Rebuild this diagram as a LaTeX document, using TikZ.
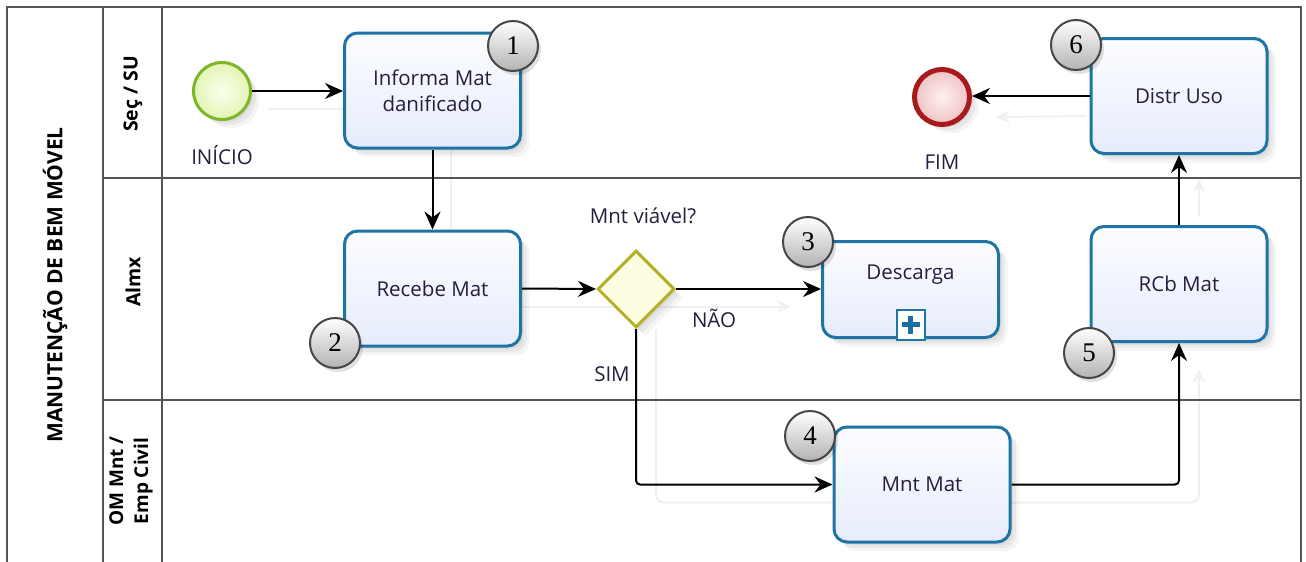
\documentclass[tikz,border=0pt]{standalone}
\usepackage{fontspec}
\setmainfont{Open Sans}
\newfontfamily\numfont{Liberation Serif}
\usetikzlibrary{arrows.meta,shadows,shapes.geometric,calc}

\pgfdeclarelayer{background}
\pgfsetlayers{background,main}

\definecolor{taskedge}{HTML}{1F74A6}
\definecolor{taskfillA}{HTML}{FCFDFF}
\definecolor{taskfillB}{HTML}{E6ECFB}
\definecolor{txt}{HTML}{281E3C}
\definecolor{laneline}{HTML}{555555}
\definecolor{startedge}{HTML}{7DB52B}
\definecolor{startfillA}{HTML}{FBFEEE}
\definecolor{startfillB}{HTML}{E2F5B4}
\definecolor{endedge}{HTML}{A8191C}
\definecolor{endfillA}{HTML}{FDF0F0}
\definecolor{endfillB}{HTML}{F0C3C5}
\definecolor{gwedge}{HTML}{B3B026}
\definecolor{gwfill}{HTML}{FDFDE2}
\definecolor{ghost}{HTML}{F0F0F0}
\definecolor{plusblue}{HTML}{1B6FA3}

\tikzset{
  softshadow/.style={
    general shadow={fill=black, opacity=0.05, shadow xshift=3pt, shadow yshift=-3pt},
    general shadow={fill=black, opacity=0.05, shadow xshift=6pt, shadow yshift=-6pt},
    general shadow={fill=black, opacity=0.04, shadow xshift=9pt, shadow yshift=-9pt}},
  frame/.style={draw=laneline, line width=1.8pt},
  lbl/.style={font=\fontsize{20.5}{26}\selectfont, text=txt, align=center},
  lanetitle/.style={font=\bfseries\fontsize{19.5}{24}\selectfont, text=black, rotate=90, align=center},
  task/.style={draw=taskedge, line width=3pt, rounded corners=13pt,
    minimum width=176pt, minimum height=115pt, inner sep=0pt,
    top color=taskfillA, bottom color=taskfillB, softshadow, lbl},
  badge/.style={circle, draw=gray!55!black, line width=2pt, minimum size=50pt, inner sep=0pt,
    top color=white, bottom color=gray!60,
    general shadow={fill=black, opacity=0.12, shadow xshift=3pt, shadow yshift=-4pt},
    font=\numfont\fontsize{27}{27}\selectfont, text=black},
  startev/.style={circle, draw=startedge, line width=3pt, minimum size=57pt, inner sep=0pt,
    inner color=startfillA, outer color=startfillB, softshadow},
  endev/.style={circle, draw=endedge, line width=5pt, minimum size=55pt, inner sep=0pt,
    inner color=endfillA, outer color=endfillB, softshadow},
  gateway/.style={diamond, draw=gwedge, line width=3pt, minimum width=77pt, minimum height=77pt,
    inner sep=0pt, fill=gwfill, softshadow},
  submark/.style={draw=taskedge, line width=2pt, fill=white, minimum width=28pt, minimum height=30pt, inner sep=0pt},
  conn/.style={draw=black, line width=2pt, -{Stealth[length=18pt,width=16pt,inset=6pt]}},
  ghostline/.style={draw=ghost, line width=2pt},
  ghostarrow/.style={ghostline, -{Stealth[length=14pt,width=13pt,inset=5pt]}}
}

\begin{document}
\begin{tikzpicture}[x=1pt,y=-1pt]
\useasboundingbox (0,0) rectangle (1306,562);

% pool and lanes
\draw[frame] (7,562) -- (7,7) -- (1301,7) -- (1301,562);
\draw[frame] (103,7) -- (103,562);
\draw[frame] (162,7) -- (162,562);
\draw[frame] (103,178) -- (1301,178);
\draw[frame] (103,400) -- (1301,400);

\node[lanetitle, font=\bfseries\fontsize{21}{24}\selectfont] (pool) at (55,285) {MANUTENÇÃO DE BEM MÓVEL};
\node[lanetitle] (lane1) at (133,94) {Seç / SU};
\node[lanetitle] (lane2) at (133,282) {Almx};
\node[lanetitle, font=\bfseries\fontsize{19}{25}\selectfont] (lane3) at (131,481) {OM Mnt /\\Emp Civil};

% flow objects
\node[startev] (start) at (222,91) {};
\node[lbl] (startlbl) at (222,155) {INÍCIO};

\node[task] (t1) at (432.5,90.5) {Informa Mat\\danificado};
\node[task] (t2) at (432.5,288.5) {Recebe Mat};
\node[gateway] (gw) at (636,289) {};
\node[lbl] (gwlbl) at (643,216) {Mnt viável?};
\node[task, minimum height=96pt] (t3) at (910.5,289.5) {};
\node[lbl] (t3lbl) at ([yshift=15pt]t3.center) {Descarga};
\node[task] (t4) at (922,484.5) {Mnt Mat};
\node[task] (t5) at (1179,284) {RCb Mat};
\node[task] (t6) at (1179,96) {Distr Uso};
\node[endev] (end) at (942,97) {};
\node[lbl] (endlbl) at (942,162) {FIM};

% faint guide traces behind the flow
\begin{pgfonlayer}{background}
\fill[white] (0,0) rectangle (1306,562);
\draw[ghostline] ([xshift=16pt,yshift=-18pt]start.east) -- ([yshift=-18pt]start.east -| t1.west);
\draw[ghostline] ([xshift=18pt]t1.south) -- ([xshift=18pt]t2.north);
\draw[ghostarrow] ([yshift=-18pt]t2.east) -- ([xshift=-30pt,yshift=-18pt]t2.east -| t3.west);
\draw[ghostarrow, rounded corners=8pt] ([xshift=20pt]gw.south) |- ([xshift=20pt, yshift=-18pt]t4.east -| t5.south) -- ([xshift=20pt,yshift=-26pt]t5.south);
\draw[ghostarrow] ([xshift=20pt,yshift=8pt]t5.north) -- ([xshift=20pt,yshift=-24pt]t6.south);
\draw[ghostarrow] ([xshift=-4pt,yshift=-20pt]t6.west) -- ([xshift=24pt,yshift=-20pt]end.east);
\end{pgfonlayer}

% collapsed sub-process marker
\node[submark, anchor=south] (t3m) at ([yshift=-1.5pt]t3.south) {};
\draw[plusblue, line width=5.5pt] ([yshift=-9pt]t3m.center) -- ([yshift=9pt]t3m.center);
\draw[plusblue, line width=5.5pt] ([xshift=-9pt]t3m.center) -- ([xshift=9pt]t3m.center);

% sequence flows
\draw[conn] (start.east) -- (start.east -| t1.west);
\draw[conn] (t1.south) -- (t2.north);
\draw[conn] (t2.east) -- (gw.west);
\draw[conn] (gw.east) -- (gw.east -| t3.west);
\draw[conn, rounded corners=4pt] (gw.south) |- (t4.west);
\draw[conn, rounded corners=4pt] (t4.east) -| (t5.south);
\draw[conn] (t5.north) -- (t6.south);
\draw[conn] (t6.west) -- (t6.west -| end.east);

\node[lbl] (nao) at (714,318) {NÃO};
\node[lbl] (sim) at (612,374) {SIM};

% step numbers
\node[badge] (b1) at (513,46) {1};
\node[badge] (b2) at (335,343) {2};
\node[badge] (b3) at (808,242) {3};
\node[badge] (b4) at (810,436) {4};
\node[badge] (b5) at (1089,353) {5};
\node[badge] (b6) at (1076,45) {6};
\end{tikzpicture}
\end{document}
